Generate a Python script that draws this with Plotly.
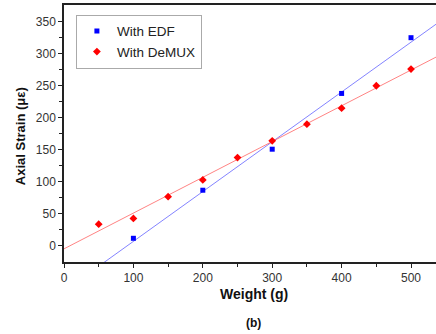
import numpy as np
import plotly.graph_objects as go

# Data
edf_weight = [100, 200, 300, 400, 500]
edf_strain = [12, 87, 151, 238, 325]
demux_weight = [50, 100, 150, 200, 250, 300, 350, 400, 450, 500]
demux_strain = [34, 43, 77, 103, 138, 164, 190, 215, 250, 276]

x_range = [0, 536]
y_range = [-25, 376]

# Linear fits computed from the data
fit_x = np.array(x_range, dtype=float)
b_edf = np.polyfit(edf_weight, edf_strain, 1)
b_dmx = np.polyfit(demux_weight, demux_strain, 1)

fig = go.Figure()
fig.add_trace(go.Scatter(x=fit_x, y=np.polyval(b_edf, fit_x), mode="lines",
                         line=dict(color="rgba(90,90,255,0.75)", width=1),
                         showlegend=False, hoverinfo="skip"))
fig.add_trace(go.Scatter(x=fit_x, y=np.polyval(b_dmx, fit_x), mode="lines",
                         line=dict(color="rgba(255,90,90,0.75)", width=1),
                         showlegend=False, hoverinfo="skip"))
fig.add_trace(go.Scatter(x=edf_weight, y=edf_strain, mode="markers", name="With EDF",
                         marker=dict(symbol="square", size=5, color="#0000ff")))
fig.add_trace(go.Scatter(x=demux_weight, y=demux_strain, mode="markers", name="With DeMUX",
                         marker=dict(symbol="diamond", size=6, color="#ff0000")))

font = "Liberation Sans, Arial, sans-serif"
fig.update_layout(
    width=436, height=334,
    margin=dict(l=64, r=0, t=5, b=72),
    paper_bgcolor="white", plot_bgcolor="white",
    font=dict(family=font, size=12, color="#333333"),
    showlegend=True,
    legend=dict(x=0.032, y=0.962, xanchor="left", yanchor="top",
                bordercolor="#aaaaaa", borderwidth=1, bgcolor="white",
                font=dict(family=font, size=13.5, color="#222222"),
                itemsizing="trace", tracegroupgap=0,
                entrywidth=90, entrywidthmode="pixels"),
    xaxis=dict(range=x_range, tickvals=[0, 100, 200, 300, 400, 500],
               showgrid=False, zeroline=False, showline=True, linecolor="#222222",
               linewidth=1.5, mirror=True, ticks="outside", ticklen=4, tickcolor="#222222",
               minor=dict(tickvals=[50, 150, 250, 350, 450], ticks="outside", ticklen=3,
                          tickcolor="#222222")),
    yaxis=dict(range=y_range, tickvals=[0, 50, 100, 150, 200, 250, 300, 350],
               showgrid=False, zeroline=False, showline=True, linecolor="#222222",
               linewidth=1.5, ticks="outside", ticklen=4, tickcolor="#222222",
               minor=dict(tickvals=[25, 75, 125, 175, 225, 275, 325], ticks="outside",
                          ticklen=3, tickcolor="#222222")),
    annotations=[
        dict(text="<b>Weight (g)</b>", xref="paper", yref="paper", x=0.51, y=-0.125,
             xanchor="center", yanchor="middle", showarrow=False,
             font=dict(family=font, size=14, color="#111111")),
        dict(text="<b>(b)</b>", xref="paper", yref="paper", x=0.51, y=-0.237,
             xanchor="center", yanchor="middle", showarrow=False,
             font=dict(family=font, size=12, color="#111111")),
        dict(text="<b>Axial Strain (με)</b>", xref="paper", yref="paper", x=-0.118, y=0.49,
             xanchor="center", yanchor="middle", showarrow=False, textangle=-90,
             font=dict(family=font, size=13, color="#111111")),
    ],
)

fig.write_html("out.html")
